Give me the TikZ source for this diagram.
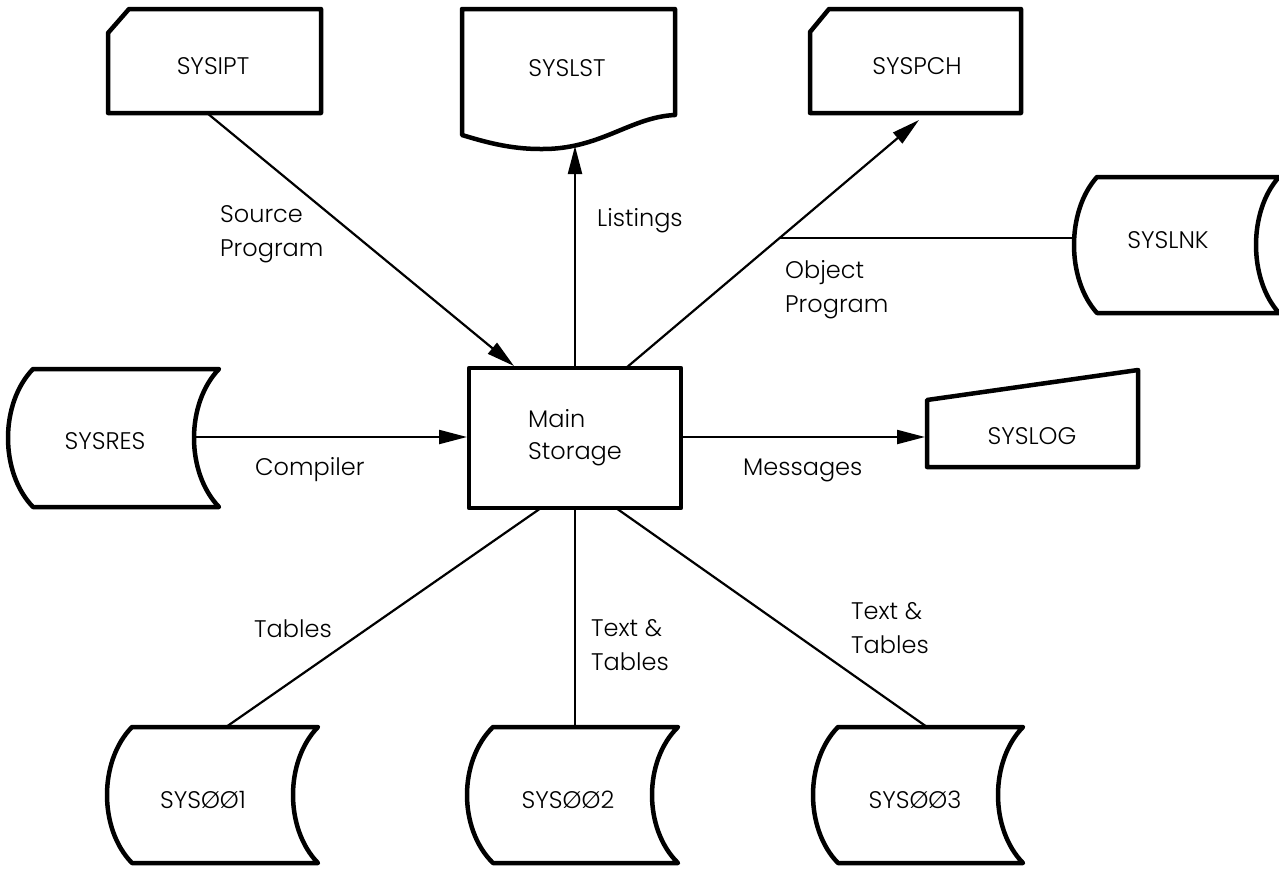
\documentclass[tikz,border=0pt]{standalone}
\usepackage{fontspec}
\setmainfont{Poppins Light}
\usetikzlibrary{arrows.meta}

% outline of a magnetic-disk / tape symbol: top-left x, top-right x, top y, bottom y, bulge depth
\newcommand\DiskOutline[6][]{%
  \pgfmathsetmacro\dkA{#2}\pgfmathsetmacro\dkB{#3}%
  \pgfmathsetmacro\dkT{#4}\pgfmathsetmacro\dkU{#5}%
  \pgfmathsetmacro\dkK{1.333*#6}%
  \pgfmathsetmacro\dkP{\dkT+0.25*(\dkU-\dkT)}\pgfmathsetmacro\dkQ{\dkT+0.75*(\dkU-\dkT)}%
  \draw[device,#1] (\dkA,\dkT) -- (\dkB,\dkT)
    .. controls (\dkB-\dkK,\dkP) and (\dkB-\dkK,\dkQ) .. (\dkB,\dkU)
    -- (\dkA,\dkU)
    .. controls (\dkA-\dkK,\dkQ) and (\dkA-\dkK,\dkP) .. (\dkA,\dkT) -- cycle;}

\begin{document}
\begin{tikzpicture}[x=1pt,y=-1pt,
  device/.style={line width=4.5pt, line join=round, fill=white},
  flow/.style={line width=2.2pt},
  arr/.style={flow, -{Triangle[length=28pt,width=14pt]}},
  devname/.style={font=\fontsize{24}{34}\selectfont, inner sep=0pt},
  lbl/.style={font=\fontsize{24}{34}\selectfont, inner sep=0pt, align=left, anchor=west},
]
\useasboundingbox (0,0) rectangle (1279,870);

% ---------- devices ----------
% card reader input
\draw[device] (108,33) -- (129,9) -- (321,9) -- (321,113) -- (108,113) -- cycle;
\node[devname] (ipt) at (213,66) {SYSIPT};
% printer listing (document)
\draw[device] (462,135) -- (462,9) -- (675,9) -- (675,115)
  .. controls (630,117) and (600,150) .. (540,149)
  .. controls (510,149) and (485,142) .. (462,135) -- cycle;
\node[devname] (lst) at (567,68) {SYSLST};
% card punch output
\draw[device] (810,32) -- (829,9) -- (1021,9) -- (1021,113) -- (810,113) -- cycle;
\node[devname] (pch) at (917,66) {SYSPCH};
% link file
\DiskOutline{1097}{1279}{177}{313}{23}
\node[devname] (lnk) at (1168,240) {SYSLNK};
% resident system
\DiskOutline{33}{219}{369}{507}{25}
\node[devname] (res) at (105,441) {SYSRES};
% console log (manual input)
\draw[device] (927,400) -- (1138,370) -- (1138,467) -- (927,467) -- cycle;
\node[devname] (log) at (1032,436) {SYSLOG};
% work files
\DiskOutline{132}{318}{727}{863}{25}
\node[devname] (w1) at (203,800) {SYSØØ1};
\DiskOutline{493}{678}{727}{863}{26}
\node[devname] (w2) at (568,800) {SYSØØ2};
\DiskOutline{838}{1023}{727}{863}{25}
\node[devname] (w3) at (915,800) {SYSØØ3};

% main storage
\node[device, draw, minimum width=212pt, minimum height=140pt, inner sep=0pt,
      font=\fontsize{24}{32}\selectfont, align=left] (main) at (575,438) {Main\\Storage};

% ---------- connection points ----------
\coordinate (ipt-o) at (207,113);
\coordinate (main-src) at (514,366);
\coordinate (main-lst) at (575,368);
\coordinate (lst-i) at (575,146);
\coordinate (main-obj) at (626,368);
\coordinate (pch-i) at (919,120);
\coordinate (obj-j) at (780,238);
\coordinate (lnk-i) at (1073,238);
\coordinate (res-o) at (195,437);
\coordinate (main-w) at (467,437);
\coordinate (main-e) at (681,437);
\coordinate (log-i) at (925,437);
\coordinate (main-s1) at (541,508);
\coordinate (main-s2) at (575,508);
\coordinate (main-s3) at (616,508);
\coordinate (w1-i) at (226,727);
\coordinate (w2-i) at (575,727);
\coordinate (w3-i) at (927,727);

% ---------- connectors ----------
\draw[arr] (ipt-o) -- (main-src);
\draw[arr] (main-lst) -- (lst-i);
\draw[arr] (main-obj) -- (pch-i);
\draw[flow] (obj-j) -- (lnk-i);
\draw[arr] (res-o) -- (main-w);
\draw[arr] (main-e) -- (log-i);
\draw[flow] (main-s1) -- (w1-i);
\draw[flow] (main-s2) -- (w2-i);
\draw[flow] (main-s3) -- (w3-i);

% ---------- labels ----------
\node[lbl] (l-src) at (220,234) {Source\\Program};
\node[lbl] (l-lst) at (597,221) {Listings};
\node[lbl] (l-obj) at (785,290) {Object\\Program};
\node[lbl] (l-cmp) at (255,470) {Compiler};
\node[lbl] (l-msg) at (743,470) {Messages};
\node[lbl] (l-t1) at (254,629) {Tables};
\node[lbl] (l-t2) at (591,645) {Text \&\\Tables};
\node[lbl] (l-t3) at (851,628) {Text \&\\Tables};
\end{tikzpicture}
\end{document}
